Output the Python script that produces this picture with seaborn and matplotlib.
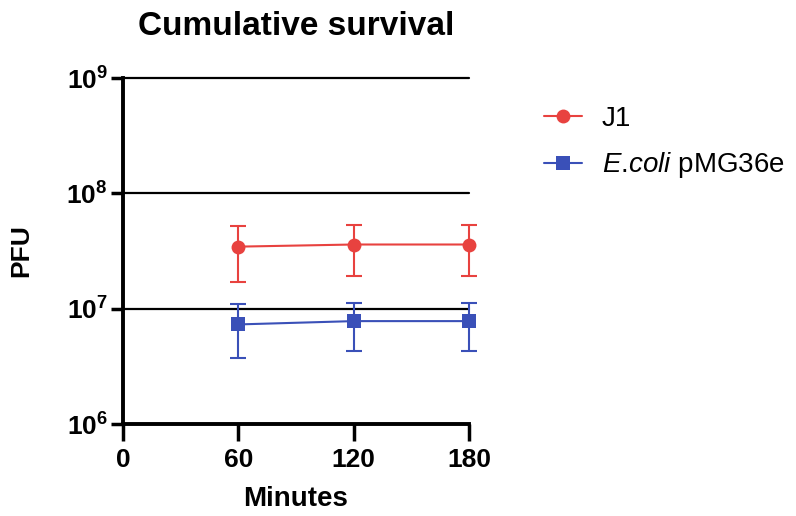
import matplotlib
matplotlib.use("Agg")
import matplotlib.pyplot as plt
import seaborn as sns
import numpy as np
import pandas as pd
from matplotlib.ticker import FixedLocator, FuncFormatter, NullLocator

minutes = [60, 120, 180]
j1_mean = [3.45e7, 3.6e7, 3.6e7]
j1_sd = [1.75e7, 1.67e7, 1.67e7]
ecoli_mean = [7.3e6, 7.8e6, 7.8e6]
ecoli_sd = [3.6e6, 3.5e6, 3.5e6]
series_names = ["J1", "$\\mathit{E}$.$\\mathit{coli}$ pMG36e"]
x_ticks = [0, 60, 120, 180]
y_ticks = [1e6, 1e7, 1e8, 1e9]

sns.set_style("ticks", {"axes.edgecolor": "black", "text.color": "black",
                        "axes.labelcolor": "black", "xtick.color": "black",
                        "ytick.color": "black"})
plt.rcParams['font.family'] = ['Liberation Sans', 'DejaVu Sans']
plt.rcParams['mathtext.fontset'] = 'custom'
plt.rcParams['mathtext.rm'] = 'Liberation Sans'
plt.rcParams['mathtext.it'] = 'Liberation Sans:italic'
plt.rcParams['mathtext.bf'] = 'Liberation Sans:bold'

red = "#E8423F"
blue = "#3A50B8"

df = pd.DataFrame({
    "Minutes": minutes * 2,
    "PFU": j1_mean + ecoli_mean,
    "series": [series_names[0]] * 3 + [series_names[1]] * 3,
})

fig = plt.figure(figsize=(7.96, 5.16), dpi=100)
ax = fig.add_axes([123/796, 1 - 424/516, (469-123)/796, (424-78)/516])

for y in [1e7, 1e8, 1e9]:
    ax.axhline(y, color="black", lw=1.6, zorder=1, clip_on=False)

for mean, sd, col in [(j1_mean, j1_sd, red), (ecoli_mean, ecoli_sd, blue)]:
    eb = ax.errorbar(minutes, mean, yerr=sd, fmt='none', ecolor=col, elinewidth=1.5,
                     capsize=5.5, capthick=1.5, zorder=2)
    for art in eb.lines[1] + eb.lines[2]:
        art.set_clip_on(False)

sns.lineplot(data=df, x="Minutes", y="PFU", hue="series", style="series",
             markers=["o", "s"], dashes=False, palette=[red, blue],
             markersize=10, markeredgewidth=0, linewidth=1.5, ax=ax, zorder=3)
for ln in ax.lines:
    ln.set_clip_on(False)
for coll in ax.collections:
    coll.set_clip_on(False)

ax.set_yscale("log")
ax.set_ylim(1e6, 1e9)
ax.set_xlim(0, 180)
ax.yaxis.set_major_locator(FixedLocator(y_ticks))
ax.yaxis.set_minor_locator(NullLocator())
ax.yaxis.set_major_formatter(FuncFormatter(lambda v, p: r"$\mathbf{10^{%d}}$" % int(round(np.log10(v)))))
ax.set_xticks(x_ticks)

sns.despine(ax=ax)
for s in ["left", "bottom"]:
    ax.spines[s].set_linewidth(2.8)
    ax.spines[s].set_color("black")
ax.tick_params(axis="y", length=9, width=2.5, labelsize=19, pad=2, colors="black")
ax.tick_params(axis="x", length=12, width=2.5, labelsize=19, pad=5, colors="black")
for lab in ax.get_xticklabels():
    lab.set_fontweight("bold")

ax.set_xlabel("Minutes", fontsize=20, fontweight="bold", labelpad=10, color="black")
ax.set_ylabel("PFU", fontsize=19, fontweight="bold", labelpad=24, color="black")
ax.set_title("Cumulative survival", fontsize=24, fontweight="bold", pad=31, color="black")

handles, labels = ax.get_legend_handles_labels()
leg = ax.legend(handles, labels, loc="upper left", bbox_to_anchor=(538/796, 1 - 100/516),
                bbox_transform=fig.transFigure, frameon=False, fontsize=20,
                handlelength=1.37, labelspacing=0.68, handletextpad=0.72,
                borderaxespad=0, borderpad=0.2)
for t in leg.get_texts():
    t.set_color("black")

fig.savefig("out.png", dpi=100)
